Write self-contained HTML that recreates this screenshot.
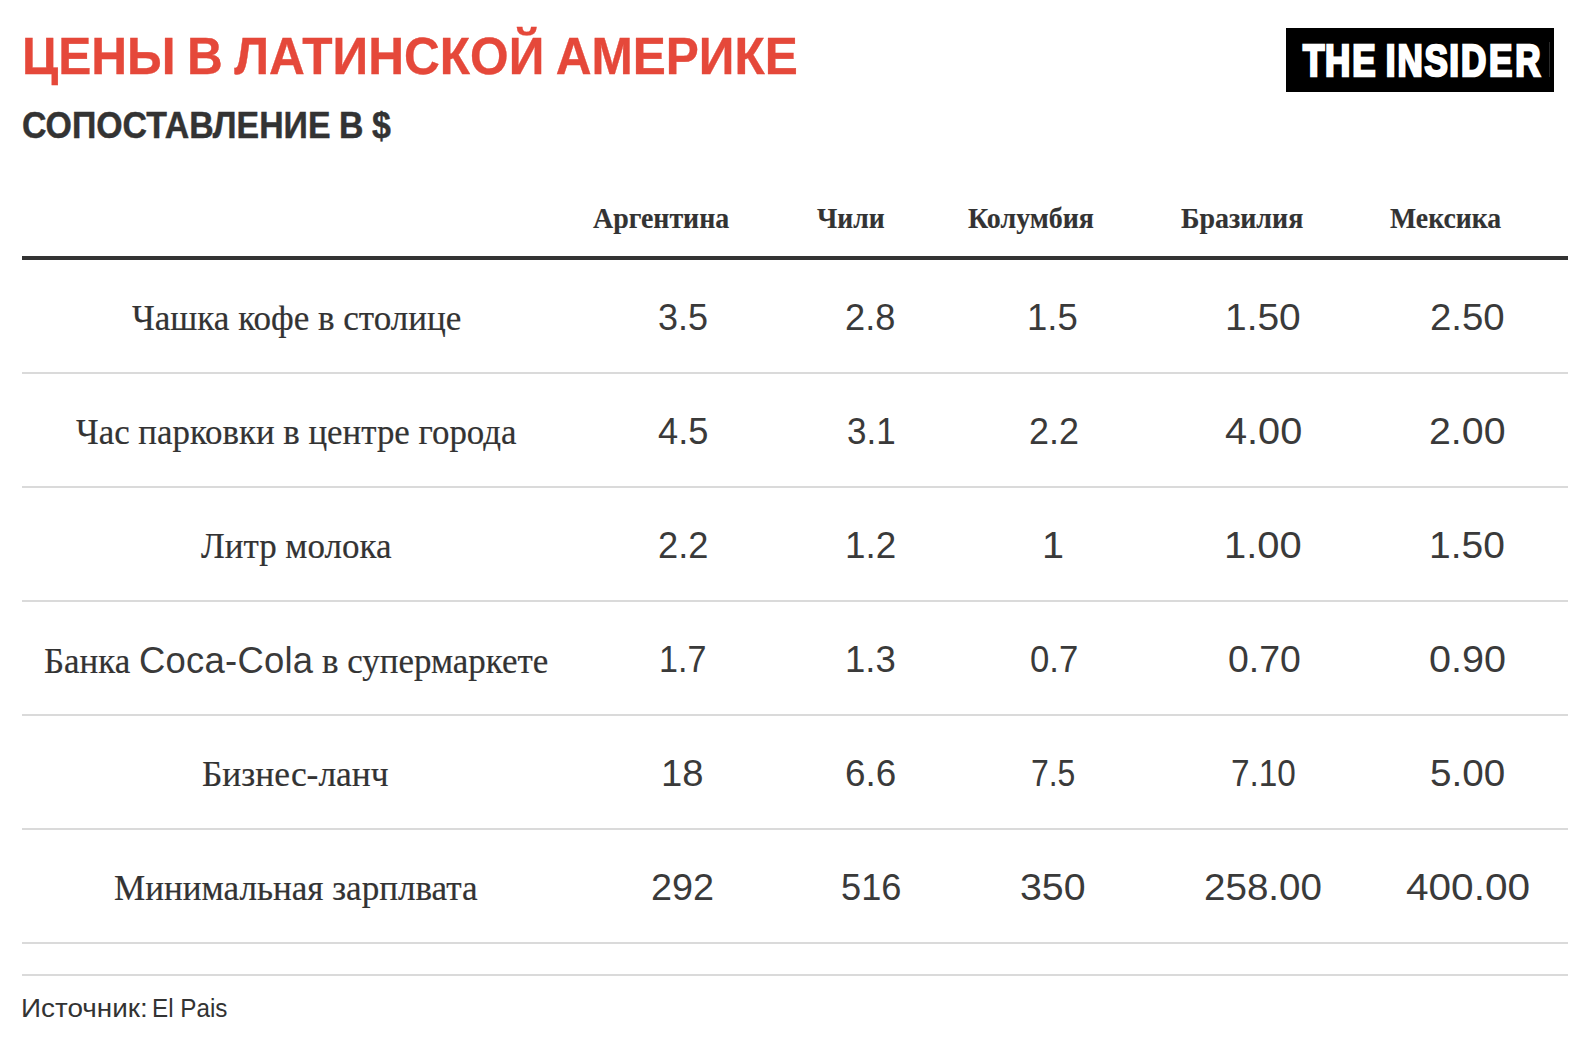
<!DOCTYPE html>
<html lang="ru">
<head>
<meta charset="utf-8">
<title>Цены в Латинской Америке</title>
<style>
  html, body { margin: 0; padding: 0; background: #fff; }
  body { width: 1588px; height: 1046px; position: relative; overflow: hidden;
         font-family: "Liberation Sans", sans-serif; color: #333; }
  .t { position: absolute; white-space: nowrap; transform-origin: 0 0; }
  .lat { font-family: "Liberation Sans", sans-serif; font-size: 36.5px; letter-spacing: 0.25px; -webkit-text-stroke: 0; color: #3a3a3a; }

  .hline { position: absolute; left: 22px; width: 1546px; height: 2px; background: #dadada; }
  #headrule { top: 256px; height: 4px; background: #333; }
  #logo { position: absolute; left: 1286px; top: 28px; width: 268px; height: 64px; background: #000; overflow: hidden; }
  .title { font: bold 51.6px/67.1px "Liberation Sans", sans-serif; color: #e5483a; -webkit-text-stroke:0.35px #e5483a; word-spacing:-2.5px; }
  .subtitle { font: bold 36.0px/46.8px "Liberation Sans", sans-serif; color: #333; -webkit-text-stroke:0.45px #333; word-spacing:-1px; }
  .th { font: bold 28.6px/37.2px "Liberation Serif", serif; color: #333; -webkit-text-stroke:0.15px #333; }
  .lab { font: normal 35px/45.5px "Liberation Serif", serif; color: #333; -webkit-text-stroke:0.2px #333; }
  .num { font: normal 36px/46.8px "Liberation Sans", sans-serif; color: #3a3a3a;  }
  .src { font: normal 26.3px/34.2px "Liberation Sans", sans-serif; color: #333;  }
</style>
</head>
<body>

<!-- headline -->
<div class="t title" style="left:22.09px;top:22.97px;transform:scaleX(0.9609)">ЦЕНЫ В ЛАТИНСКОЙ АМЕРИКЕ</div>
<div class="t subtitle" style="left:21.60px;top:103.13px;transform:scaleX(0.9405)">СОПОСТАВЛЕНИЕ В $</div>
<!-- logo -->
<div id="logo"><svg width="268" height="64" viewBox="0 0 268 64" style="position:absolute;left:0;top:0"><rect x="263" y="14" width="1" height="35" fill="#2a2a2a"/><text transform="scale(0.875,1.092)" x="19.38 44.58 75.66 105.41 114.12 127.57 158.28 186.62 200.07 232.10 261.87" y="43.67" font-family="Liberation Sans, sans-serif" font-weight="bold" font-size="40" fill="#fff" stroke="#fff" stroke-width="2.4" stroke-linejoin="miter">THE INSIDER</text></svg></div>
<!-- table head -->
<div class="t th" style="left:592.53px;top:199.65px;transform:scaleX(0.9754)">Аргентина</div>
<div class="t th" style="left:816.73px;top:199.65px;transform:scaleX(0.9665)">Чили</div>
<div class="t th" style="left:968.41px;top:199.65px;transform:scaleX(0.9769)">Колумбия</div>
<div class="t th" style="left:1181.11px;top:199.65px;transform:scaleX(0.9778)">Бразилия</div>
<div class="t th" style="left:1390.41px;top:199.65px;transform:scaleX(0.9709)">Мексика</div>
<div id="headrule" class="hline"></div>
<!-- table body -->
<div class="t lab" style="left:131.82px;top:296.24px;transform:scaleX(1.0016)">Чашка кофе в столице</div>
<div class="t num" style="left:658.18px;top:295.03px;transform:scaleX(0.9990)">3.5</div>
<div class="t num" style="left:845.39px;top:295.03px;transform:scaleX(1.0062)">2.8</div>
<div class="t num" style="left:1027.46px;top:295.03px;transform:scaleX(1.0139)">1.5</div>
<div class="t num" style="left:1225.36px;top:295.03px;transform:scaleX(1.0810)">1.50</div>
<div class="t num" style="left:1429.87px;top:295.03px;transform:scaleX(1.0662)">2.50</div>
<div class="hline" style="top:372px"></div>
<div class="t lab" style="left:76.32px;top:410.24px;transform:scaleX(0.9962)">Час парковки в центре города</div>
<div class="t num" style="left:657.79px;top:409.03px;transform:scaleX(1.0070)">4.5</div>
<div class="t num" style="left:847.12px;top:409.03px;transform:scaleX(0.9724)">3.1</div>
<div class="t num" style="left:1028.51px;top:409.03px;transform:scaleX(0.9957)">2.2</div>
<div class="t num" style="left:1225.30px;top:409.03px;transform:scaleX(1.1023)">4.00</div>
<div class="t num" style="left:1428.72px;top:409.03px;transform:scaleX(1.0918)">2.00</div>
<div class="hline" style="top:486px"></div>
<div class="t lab" style="left:200.62px;top:524.24px;transform:scaleX(0.9989)">Литр молока</div>
<div class="t num" style="left:657.69px;top:523.03px;transform:scaleX(1.0065)">2.2</div>
<div class="t num" style="left:844.93px;top:523.03px;transform:scaleX(1.0222)">1.2</div>
<div class="t num" style="left:1041.70px;top:523.03px;transform:scaleX(1.1000)">1</div>
<div class="t num" style="left:1224.17px;top:523.03px;transform:scaleX(1.1084)">1.00</div>
<div class="t num" style="left:1428.75px;top:523.03px;transform:scaleX(1.0825)">1.50</div>
<div class="hline" style="top:600px"></div>
<div class="t lab" style="left:44.00px;top:638.24px;transform:scaleX(0.9983)">Банка <span class="lat">Coca-Cola</span> в супермаркете</div>
<div class="t num" style="left:658.86px;top:637.03px;transform:scaleX(0.9467)">1.7</div>
<div class="t num" style="left:844.96px;top:637.03px;transform:scaleX(1.0133)">1.3</div>
<div class="t num" style="left:1030.35px;top:637.03px;transform:scaleX(0.9636)">0.7</div>
<div class="t num" style="left:1228.24px;top:637.03px;transform:scaleX(1.0390)">0.70</div>
<div class="t num" style="left:1429.16px;top:637.03px;transform:scaleX(1.0985)">0.90</div>
<div class="hline" style="top:714px"></div>
<div class="t lab" style="left:202.38px;top:752.24px;transform:scaleX(1.0124)">Бизнес-ланч</div>
<div class="t num" style="left:660.61px;top:751.03px;transform:scaleX(1.0618)">18</div>
<div class="t num" style="left:845.35px;top:751.03px;transform:scaleX(1.0238)">6.6</div>
<div class="t num" style="left:1030.73px;top:751.03px;transform:scaleX(0.8867)">7.5</div>
<div class="t num" style="left:1231.15px;top:751.03px;transform:scaleX(0.9266)">7.10</div>
<div class="t num" style="left:1430.07px;top:751.03px;transform:scaleX(1.0720)">5.00</div>
<div class="hline" style="top:828px"></div>
<div class="t lab" style="left:113.99px;top:866.24px;transform:scaleX(1.0028)">Минимальная зарплвата</div>
<div class="t num" style="left:650.90px;top:865.03px;transform:scaleX(1.0500)">292</div>
<div class="t num" style="left:840.58px;top:865.03px;transform:scaleX(1.0056)">516</div>
<div class="t num" style="left:1020.14px;top:865.03px;transform:scaleX(1.0916)">350</div>
<div class="t num" style="left:1204.36px;top:865.03px;transform:scaleX(1.0714)">258.00</div>
<div class="t num" style="left:1405.57px;top:865.03px;transform:scaleX(1.1265)">400.00</div>
<div class="hline" style="top:942px"></div>
<!-- footer -->
<div class="hline" style="top:974px"></div>
<div class="t src" style="left:20.57px;top:991.29px;transform:scaleX(1.0592)">Источник:</div>
<div class="t src" style="left:151.62px;top:991.29px;transform:scaleX(0.9212)">El Pais</div>
</body>
</html>
